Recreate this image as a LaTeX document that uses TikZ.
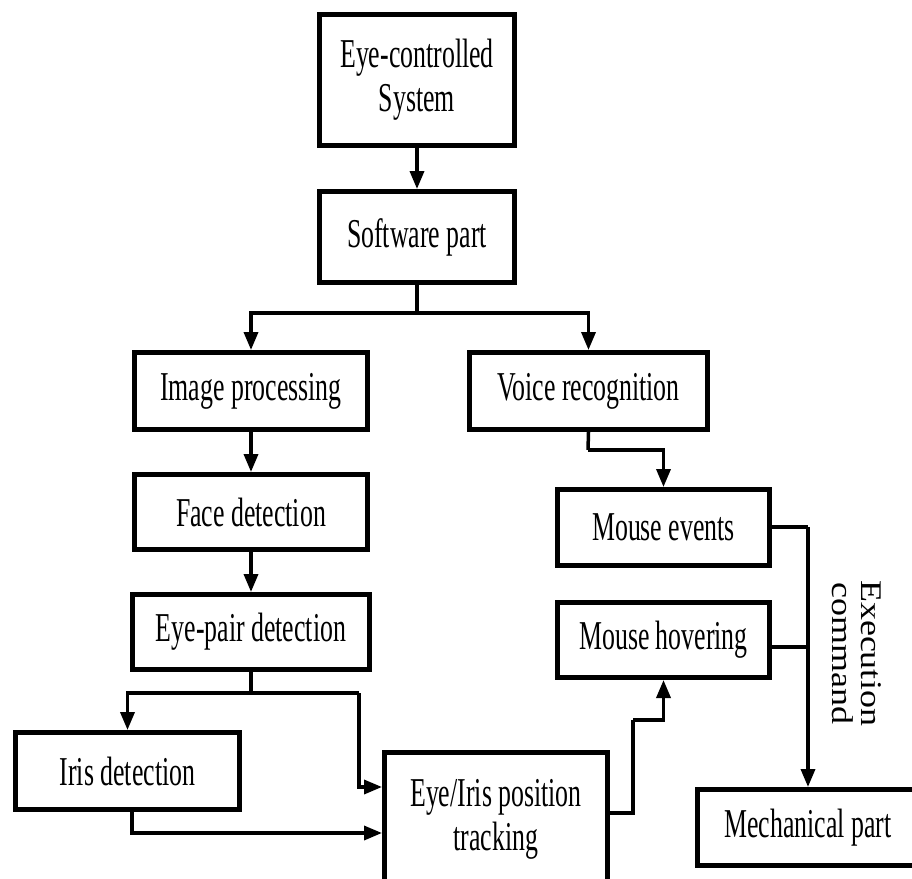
\documentclass[tikz,border=0pt]{standalone}
\usepackage{fontspec}
\setmainfont{Liberation Serif}
\newfontfamily\boxfont[FakeStretch=0.63]{Liberation Serif}
\newfontfamily\rotfont[FakeStretch=1.2]{Liberation Serif}
\usetikzlibrary{arrows.meta,calc}
\tikzset{
  blk/.style={draw=black, line width=5pt, fill=white, rectangle, inner sep=0pt,
    align=center, font=\boxfont\fontsize{41}{44}\selectfont},
  conn/.style={draw=black, line width=3.5pt},
  arr/.style={conn, -{Triangle[length=18pt,width=14pt]}},
  lbl/.style={align=center, inner sep=0pt, font=\rotfont\fontsize{30}{29}\selectfont}
}
\begin{document}
\begin{tikzpicture}[x=1pt,y=-1pt]
\useasboundingbox (0,0) rectangle (912,878);
\clip (0,0) rectangle (912,878);
\fill[white] (0,0) rectangle (912,878);

\node[blk, minimum width=195pt, minimum height=131pt] (sys) at (417,80) {Eye-controlled\\System};
\node[blk, minimum width=195pt, minimum height=91pt] (soft) at (417,237) {Software part};
\node[blk, minimum width=233pt, minimum height=77pt] (img) at (251,391) {Image processing};
\node[blk, minimum width=238pt, minimum height=77pt] (voice) at (588.5,391) {Voice recognition};
\node[blk, minimum width=233pt, minimum height=75pt] (face) at (251,512) {Face detection};
\node[blk, minimum width=237pt, minimum height=75pt] (pair) at (251,632) {Eye-pair detection};
\node[blk, minimum width=224pt, minimum height=77pt] (iris) at (127.5,771) {Iris detection};
\node[blk, minimum width=223pt, minimum height=133pt] (track) at (496,819) {Eye/Iris position\\tracking};
\node[blk, minimum width=212pt, minimum height=76pt] (mev) at (663.5,527.5) {Mouse events};
\node[blk, minimum width=212pt, minimum height=75pt] (mhov) at (663.5,640) {Mouse hovering};
\node[blk, minimum width=222pt, minimum height=76pt] (mech) at (808,827.5) {Mechanical part};
\node[lbl, rotate=-90] (exec) at (857,653) {Execution\\command};

\coordinate (bus) at (417,313);
\coordinate (vstep) at (588,450);
\coordinate (pbus) at (251,693);
\coordinate (pright) at (359,693);
\coordinate (irisdown) at (132,833);
\coordinate (tout) at (633,813);
\coordinate (tup) at (633,720);
\coordinate (ecol) at (808,527);
\coordinate (hovr) at ([yshift=-7pt]mhov.east);

\draw[arr] (sys.south) -- (soft.north);
\draw[conn] (soft.south) -- (bus);
\draw[arr] (bus) -| (img.north);
\draw[arr] (bus) -| (voice.north);
\draw[arr] (img.south) -- (face.north);
\draw[arr] (face.south) -- (pair.north);
\draw[conn] (voice.south) -- (vstep);
\draw[arr] (vstep) -| (mev.north);
\draw[conn] (pair.south) -- (pbus);
\draw[arr] (pbus) -| (iris.north);
\draw[conn] (pbus) -- (pright);
\draw[arr] (pright) |- (track.west |- 0,787);
\draw[arr] (irisdown |- iris.south) -- (irisdown) -- (track.west |- irisdown);
\draw[conn] (track.east |- tout) -- (tout) -- (tup);
\draw[arr] (tup) -| (mhov.south);
\draw[conn] (mev.east |- ecol) -- (ecol);
\draw[arr] (ecol) -- (mech.north);
\draw[conn] (hovr) -- (ecol |- hovr);
\end{tikzpicture}
\end{document}
